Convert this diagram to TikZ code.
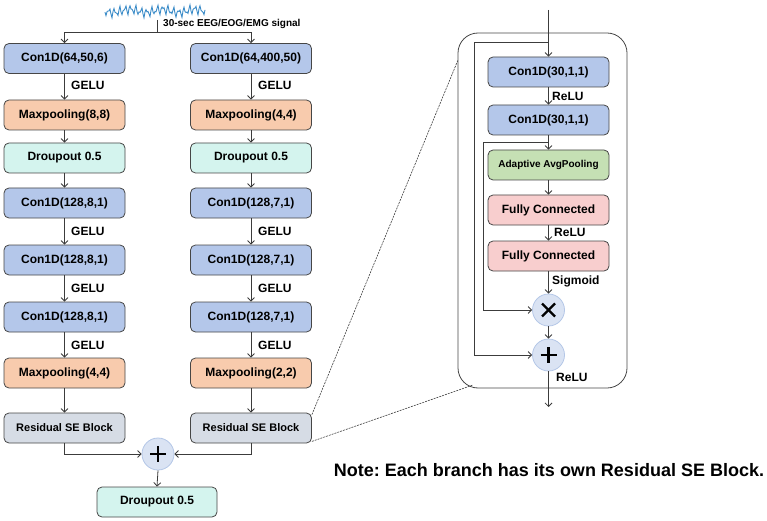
\documentclass[tikz,border=0pt]{standalone}
\usepackage{fontspec}
\setmainfont{Liberation Sans}
\frenchspacing
\usetikzlibrary{arrows.meta}
\definecolor{cblue}{RGB}{180,199,234}
\definecolor{corange}{RGB}{248,203,173}
\definecolor{ccyan}{RGB}{212,244,238}
\definecolor{cgray}{RGB}{214,220,229}
\definecolor{cgreen}{RGB}{197,224,180}
\definecolor{cpink}{RGB}{248,206,206}
\definecolor{ccirc}{RGB}{218,227,243}
\definecolor{circline}{RGB}{180,199,231}
\definecolor{boxline}{RGB}{70,70,70}
\definecolor{lnc}{RGB}{60,60,60}
\definecolor{wavec}{RGB}{60,140,200}
\begin{document}
\begin{tikzpicture}[x=1pt,y=-1pt,
  box/.style={draw=boxline, line width=0.8pt, rounded corners=5pt, minimum width=121pt, minimum height=30pt, inner sep=0pt, font=\fontsize{12}{14}\bfseries\selectfont},
  bl/.style={box, fill=cblue},
  orb/.style={box, fill=corange},
  cyb/.style={box, fill=ccyan},
  grb/.style={box, fill=cgray, font=\fontsize{11}{13}\bfseries\selectfont},
  gnb/.style={box, fill=cgreen, font=\fontsize{10}{12}\bfseries\selectfont},
  pkb/.style={box, fill=cpink},
  circ/.style={circle, draw=circline, fill=ccirc, minimum size=32pt, inner sep=0pt, line width=0.8pt},
  lnk/.style={draw=lnc, line width=0.8pt},
  arr/.style={lnk, -{Straight Barb[length=3.5pt,width=7pt]}},
  lab/.style={anchor=west, inner sep=0pt, font=\fontsize{12}{14}\bfseries\selectfont},
  dsh/.style={draw=lnc, line width=0.6pt, dash pattern=on 2pt off 1pt},
  sym/.style={draw=black, line width=2.2pt}
]
\useasboundingbox (0,0) rectangle (767,521);

% signal
\draw[wavec, line width=0.9pt] plot[domain=0:100, samples=101] ({\x+105}, {11 + 3.2*sin(67*\x) + 2.3*sin(113*\x+30) + 1.6*sin(11*\x)});
\coordinate (sig) at (157,20);
\coordinate (sj) at (157,32);
\node[anchor=west, inner sep=0pt, font=\fontsize{10}{12}\bfseries\selectfont] (siglab) at (163,24) {30-sec EEG/EOG/EMG signal};

% left column
\node[bl]  (L1) at (64.5,58.5) {Con1D(64,50,6)};
\node[orb] (L2) at (64.5,115) {Maxpooling(8,8)};
\node[cyb] (L3) at (64.5,158) {Droupout 0.5};
\node[bl]  (L4) at (64.5,203) {Con1D(128,8,1)};
\node[bl]  (L5) at (64.5,260) {Con1D(128,8,1)};
\node[bl]  (L6) at (64.5,317) {Con1D(128,8,1)};
\node[orb] (L7) at (64.5,373) {Maxpooling(4,4)};
\node[grb] (L8) at (64.5,428) {Residual SE Block};

% right column
\node[bl]  (R1) at (251,58.5) {Con1D(64,400,50)};
\node[orb] (R2) at (251,115) {Maxpooling(4,4)};
\node[cyb] (R3) at (251,158) {Droupout 0.5};
\node[bl]  (R4) at (251,203) {Con1D(128,7,1)};
\node[bl]  (R5) at (251,260) {Con1D(128,7,1)};
\node[bl]  (R6) at (251,317) {Con1D(128,7,1)};
\node[orb] (R7) at (251,373) {Maxpooling(2,2)};
\node[grb] (R8) at (251,428) {Residual SE Block};

\draw[lnk] (sig) -- (sj);
\draw[arr] (sj) -| (L1.north);
\draw[arr] (sj) -| (R1.north);

\foreach \c/\g in {L/71, R/258}{
  \draw[arr] (\c1) -- (\c2);
  \node[lab] at (\g,85) {GELU};
  \draw[arr] (\c2) -- (\c3);
  \draw[arr] (\c3) -- (\c4);
  \draw[arr] (\c4) -- (\c5);
  \node[lab] at (\g,231) {GELU};
  \draw[arr] (\c5) -- (\c6);
  \node[lab] at (\g,288) {GELU};
  \draw[arr] (\c6) -- (\c7);
  \node[lab] at (\g,345) {GELU};
  \draw[arr] (\c7) -- (\c8);
}

% merge
\node[circ] (sum) at (158,454) {};
\draw[sym] ([shift={(-8,0)}]sum.center) -- ([shift={(8,0)}]sum.center);
\draw[sym] ([shift={(0,-8)}]sum.center) -- ([shift={(0,8)}]sum.center);
\node[cyb, minimum width=120pt] (D) at (157,502) {Droupout 0.5};
\draw[arr] (L8.south) |- (sum.west);
\draw[arr] (R8.south) |- (sum.east);
\draw[arr] (sum.south) -- (D.north);

% panel
\node[draw=boxline, line width=0.8pt, rounded corners=20pt, minimum width=169pt, minimum height=355pt, inner sep=0pt] (panel) at (542.5,210.5) {};
\node[bl]  (S1) at (548.5,72) {Con1D(30,1,1)};
\node[bl]  (S2) at (548.5,120) {Con1D(30,1,1)};
\node[gnb] (S3) at (548.5,165) {Adaptive AvgPooling};
\node[pkb] (S4) at (548.5,210) {Fully Connected};
\node[pkb] (S5) at (548.5,256) {Fully Connected};
\node[circ] (mul) at (548.5,310) {};
\draw[sym] ([shift={(-6.5,-6.5)}]mul.center) -- ([shift={(6.5,6.5)}]mul.center);
\draw[sym] ([shift={(-6.5,6.5)}]mul.center) -- ([shift={(6.5,-6.5)}]mul.center);
\node[circ] (add) at (548.5,355) {};
\draw[sym] ([shift={(-8,0)}]add.center) -- ([shift={(8,0)}]add.center);
\draw[sym] ([shift={(0,-8)}]add.center) -- ([shift={(0,8)}]add.center);

\coordinate (in) at (548.5,10);
\coordinate (b1) at (548.5,42);
\coordinate (k1) at (474,42);
\coordinate (b2) at (548.5,142);
\coordinate (k2) at (483,142);
\coordinate (out) at (548.5,407);

\draw[lnk] (in) -- (b1);
\draw[arr] (b1) -- (S1.north);
\draw[arr] (b1) -- (k1) |- (add.west);
\draw[arr] (S1) -- (S2);
\node[lab] at (552,96) {ReLU};
\draw[lnk] (S2.south) -- (b2);
\draw[arr] (b2) -- (S3.north);
\draw[arr] (b2) -- (k2) |- (mul.west);
\draw[arr] (S3) -- (S4);
\draw[arr] (S4) -- (S5);
\node[lab] at (554,232) {ReLU};
\draw[arr] (S5) -- (mul);
\node[lab] at (552,281) {Sigmoid};
\draw[arr] (mul) -- (add);
\draw[arr] (add) -- (out);
\node[lab] at (556,377) {ReLU};

% zoom lines
\coordinate (z1) at (458,60);
\coordinate (z2) at (473,385);
\draw[dsh] ([shift={(0,2)}]R8.north east) -- (z1);
\draw[dsh] ([shift={(0,-2)}]R8.south east) -- (z2);

% note
\node[inner sep=0pt, font=\fontsize{18}{21}\bfseries\selectfont] (note) at (549,470) {Note: Each branch has its own Residual SE Block.};
\end{tikzpicture}
\end{document}
